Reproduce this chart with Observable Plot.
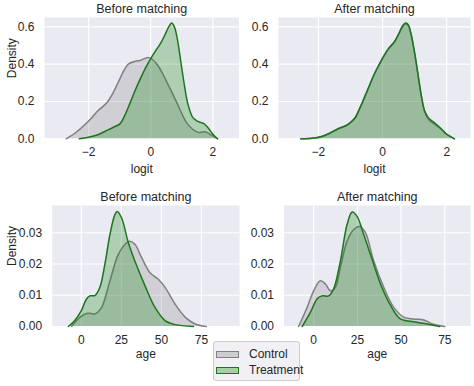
<!DOCTYPE html>
<html>
<head>
<meta charset="utf-8">
<script src="https://cdn.jsdelivr.net/npm/d3@7"></script>
<script src="https://cdn.jsdelivr.net/npm/@observablehq/plot@0.6"></script>
<style>
  body { margin: 0; background: #fff; font-family: "Liberation Sans", Arial, sans-serif; }
  #wrap { position: relative; width: 474px; height: 386px; overflow: hidden; background: #fff; }
  #wrap svg { position: absolute; }
  #legend { position: absolute; left: 213px; top: 341px; width: 87px; height: 40px; box-sizing: border-box;
    border: 1px solid #cccccc; border-radius: 3px; background: rgba(238,238,244,0.9); z-index: 5; }
  .sw { position: absolute; left: 2px; width: 23px; height: 7px; box-sizing: border-box; }
  .lt { position: absolute; left: 35px; font-size: 12px; color: #262626; line-height: 14px; white-space: nowrap; }
</style>
</head>
<body>
<div id="wrap"></div>
<script>
// ---------- data ----------
const groups = ["Control", "Treatment"];
const groupColors = ["gray", "green"];
const groupLineColors = ["#808080", "#1f751f"];

const panelTitles = ["Before matching", "After matching", "Before matching", "After matching"];
const xLabels = ["logit", "logit", "age", "age"];
const yLabel = "Density";

const logitTicks = [-2, 0, 2];
const logitTickLabels = ["\u22122", "0", "2"];
const ageTicks = [0, 25, 50, 75];
const ageTickLabels = ["0", "25", "50", "75"];
const logitDensityTicks = [0, 0.2, 0.4, 0.6];
const logitDensityTickLabels = ["0.0", "0.2", "0.4", "0.6"];
const ageDensityTicks = [0, 0.01, 0.02, 0.03];
const ageDensityTickLabels = ["0.00", "0.01", "0.02", "0.03"];

// Panel 1: logit, before matching
const logitBeforeControlX = [-2.72, -2.4, -2.0, -1.7, -1.43, -1.2, -1.0, -0.85, -0.72, -0.5, -0.34, -0.06, 0.2, 0.53, 0.85, 1.18, 1.5, 1.65, 1.77, 1.95, 2.15];
const logitBeforeControlY = [0, 0.035, 0.095, 0.15, 0.19, 0.25, 0.32, 0.37, 0.40, 0.415, 0.42, 0.435, 0.40, 0.30, 0.19, 0.08, 0.036, 0.035, 0.037, 0.02, 0];
const logitBeforeTreatX = [-2.3, -2.0, -1.7, -1.41, -1.2, -0.99, -0.85, -0.67, -0.5, -0.34, -0.15, 0, 0.15, 0.31, 0.45, 0.58, 0.67, 0.76, 0.85, 0.97, 1.08, 1.19, 1.35, 1.5, 1.6, 1.72, 1.83, 2.0, 2.15];
const logitBeforeTreatY = [0, 0.008, 0.022, 0.045, 0.062, 0.08, 0.12, 0.19, 0.26, 0.32, 0.385, 0.43, 0.47, 0.51, 0.555, 0.60, 0.62, 0.60, 0.54, 0.41, 0.29, 0.19, 0.115, 0.095, 0.088, 0.08, 0.062, 0.025, 0];

// Panel 2: logit, after matching
const logitAfterControlX = [-2.55, -2.2, -1.91, -1.65, -1.39, -1.1, -0.87, -0.72, -0.56, -0.4, -0.25, -0.1, 0.06, 0.2, 0.37, 0.5, 0.63, 0.72, 0.8, 0.89, 1.0, 1.1, 1.2, 1.31, 1.42, 1.52, 1.62, 1.72, 1.85, 1.98, 2.24];
const logitAfterControlY = [0, 0.003, 0.01, 0.03, 0.052, 0.074, 0.107, 0.16, 0.22, 0.29, 0.35, 0.40, 0.45, 0.485, 0.52, 0.56, 0.602, 0.615, 0.605, 0.555, 0.455, 0.345, 0.235, 0.145, 0.107, 0.09, 0.078, 0.065, 0.047, 0.026, 0];
const logitAfterTreatX = [-2.55, -2.2, -1.91, -1.65, -1.39, -1.1, -0.87, -0.72, -0.56, -0.4, -0.25, -0.1, 0.06, 0.2, 0.37, 0.5, 0.63, 0.72, 0.8, 0.89, 1.0, 1.1, 1.2, 1.31, 1.42, 1.52, 1.62, 1.72, 1.85, 1.98, 2.24];
const logitAfterTreatY = [0, 0.003, 0.012, 0.03, 0.054, 0.075, 0.11, 0.16, 0.225, 0.29, 0.35, 0.40, 0.45, 0.487, 0.52, 0.562, 0.607, 0.62, 0.612, 0.56, 0.46, 0.35, 0.24, 0.15, 0.115, 0.098, 0.085, 0.071, 0.05, 0.027, 0];

// Panel 3: age, before matching
const ageBeforeControlX = [-6, -1.9, 2.3, 5.4, 8.5, 12.7, 17.9, 23.1, 28.3, 30.4, 33.5, 37.7, 42.9, 48.1, 52.3, 58.5, 64.8, 71, 78];
const ageBeforeControlY = [0, 0.0024, 0.004, 0.0042, 0.004, 0.0061, 0.0146, 0.023, 0.0268, 0.0273, 0.0263, 0.022, 0.0172, 0.0151, 0.0125, 0.0072, 0.003, 0.0008, 0];
const ageBeforeTreatX = [-8, -4, 0, 3.3, 5.4, 8.5, 11.6, 14.8, 17.9, 21, 22.5, 25.2, 29.4, 34.6, 39.8, 46, 52.3, 58.5, 70];
const ageBeforeTreatY = [0, 0.0019, 0.005, 0.0088, 0.0098, 0.0099, 0.0125, 0.020, 0.0294, 0.0358, 0.0368, 0.0347, 0.0268, 0.0194, 0.013, 0.0061, 0.0019, 0.0006, 0];

// Panel 4: age, after matching
const ageAfterControlX = [-8.6, -3.8, 0, 3.8, 6.7, 9.6, 12.4, 15.3, 19.1, 22.9, 26.3, 29.6, 34.3, 40.1, 45.8, 51.5, 57.2, 63, 67.8, 75];
const ageAfterControlY = [0, 0.0061, 0.0114, 0.0146, 0.0136, 0.0114, 0.0125, 0.0189, 0.0273, 0.031, 0.032, 0.030, 0.021, 0.0125, 0.0061, 0.003, 0.0024, 0.0021, 0.0008, 0];
const ageAfterTreatX = [-6.6, -1.9, 1.9, 4.8, 8.6, 11.4, 15.3, 19.1, 22, 24.8, 28.6, 33.4, 38.2, 43.9, 49.6, 57.2, 65, 72];
const ageAfterTreatY = [0, 0.0045, 0.0088, 0.0098, 0.0098, 0.012, 0.021, 0.0326, 0.0366, 0.0352, 0.0294, 0.0215, 0.0136, 0.0068, 0.0024, 0.0015, 0.0008, 0];

// ---------- drawing ----------
const toRows = (xs, ys) => xs.map((x, i) => ({x, y: ys[i]}));
const wrap = document.getElementById("wrap");

function drawPanel(cfg) {
  const marks = [
    Plot.frame({fill: "#EAEAF2", stroke: "none"}),
    Plot.gridX(cfg.xTicks, {stroke: "white", strokeOpacity: 1, strokeWidth: 1.1}),
    Plot.gridY(cfg.yTicks, {stroke: "white", strokeOpacity: 1, strokeWidth: 1.1})
  ];
  cfg.series.forEach((s, gi) => {
    const rows = toRows(s[0], s[1]);
    marks.push(Plot.areaY(rows, {x: "x", y: "y", fill: groupColors[gi], fillOpacity: 0.25, curve: "catmull-rom"}));
    marks.push(Plot.lineY(rows, {x: "x", y: "y", stroke: groupLineColors[gi], strokeWidth: 1.5, curve: "catmull-rom"}));
  });
  marks.push(
    Plot.axisX(cfg.xTicks, {tickSize: 0, tickPadding: 9, fontSize: 12, label: null,
      tickFormat: d => cfg.xTickLabels[cfg.xTicks.indexOf(d)]}),
    Plot.axisY(cfg.yTicks, {tickSize: 0, tickPadding: 10, fontSize: 12, label: null,
      tickFormat: d => cfg.yTickLabels[cfg.yTicks.indexOf(d)]}),
    Plot.text([cfg.title], {text: d => d, frameAnchor: "top", dy: -5, lineAnchor: "bottom", fontSize: 12.5}),
    Plot.text([cfg.xLabel], {text: d => d, frameAnchor: "bottom", dy: cfg.xLabelDy, lineAnchor: "bottom", fontSize: 12})
  );
  if (cfg.yLabel) {
    marks.push(Plot.text([cfg.yLabel], {text: d => d, frameAnchor: "left", dx: cfg.yLabelDx, rotate: -90, lineAnchor: "top", fontSize: 12}));
  }
  const svg = Plot.plot({
    width: cfg.width, height: cfg.height,
    marginLeft: cfg.m[0], marginRight: cfg.m[1], marginTop: cfg.m[2], marginBottom: cfg.m[3],
    x: {domain: cfg.xDomain, nice: false},
    y: {domain: cfg.yDomain, nice: false},
    style: {background: "transparent", color: "#262626", fontFamily: "'Liberation Sans', Arial, sans-serif", fontSize: "12px"},
    marks
  });
  svg.style.left = cfg.left + "px";
  svg.style.top = cfg.top + "px";
  wrap.appendChild(svg);
}

drawPanel({
  left: 0, top: 0, width: 244, height: 185, m: [44, 5.5, 17, 46.7],
  xDomain: [-3.42, 2.84], yDomain: [0, 0.65],
  xTicks: logitTicks, xTickLabels: logitTickLabels, yTicks: logitDensityTicks, yTickLabels: logitDensityTickLabels,
  title: panelTitles[0], xLabel: xLabels[0], xLabelDy: 34, yLabel: yLabel, yLabelDx: -37.4,
  series: [[logitBeforeControlX, logitBeforeControlY], [logitBeforeTreatX, logitBeforeTreatY]]
});
drawPanel({
  left: 244, top: 0, width: 230, height: 185, m: [34, 4, 17, 46.7],
  xDomain: [-3.245, 2.74], yDomain: [0, 0.65],
  xTicks: logitTicks, xTickLabels: logitTickLabels, yTicks: logitDensityTicks, yTickLabels: logitDensityTickLabels,
  title: panelTitles[1], xLabel: xLabels[1], xLabelDy: 34,
  series: [[logitAfterControlX, logitAfterControlY], [logitAfterTreatX, logitAfterTreatY]]
});
drawPanel({
  left: 0, top: 185, width: 244, height: 201, m: [51.7, 5, 20, 60],
  xDomain: [-18.1, 98.7], yDomain: [0, 0.0387],
  xTicks: ageTicks, xTickLabels: ageTickLabels, yTicks: ageDensityTicks, yTickLabels: ageDensityTickLabels,
  title: panelTitles[2], xLabel: xLabels[2], xLabelDy: 31, yLabel: yLabel, yLabelDx: -45.1,
  series: [[ageBeforeControlX, ageBeforeControlY], [ageBeforeTreatX, ageBeforeTreatY]]
});
drawPanel({
  left: 244, top: 185, width: 230, height: 201, m: [39.5, 4, 20, 60],
  xDomain: [-17.0, 89.7], yDomain: [0, 0.0387],
  xTicks: ageTicks, xTickLabels: ageTickLabels, yTicks: ageDensityTicks, yTickLabels: ageDensityTickLabels,
  title: panelTitles[3], xLabel: xLabels[3], xLabelDy: 31,
  series: [[ageAfterControlX, ageAfterControlY], [ageAfterTreatX, ageAfterTreatY]]
});

// legend
const legend = document.createElement("div");
legend.id = "legend";
const swFills = ["rgba(128,128,128,0.3)", "rgba(0,128,0,0.3)"];
groups.forEach((g, i) => {
  const sw = document.createElement("div");
  sw.className = "sw";
  sw.style.top = (8.5 + i * 16) + "px";
  sw.style.background = swFills[i];
  sw.style.border = "1px solid " + groupLineColors[i];
  legend.appendChild(sw);
  const t = document.createElement("div");
  t.className = "lt";
  t.style.top = (5 + i * 16) + "px";
  t.textContent = g;
  legend.appendChild(t);
});
wrap.appendChild(legend);
</script>
</body>
</html>
